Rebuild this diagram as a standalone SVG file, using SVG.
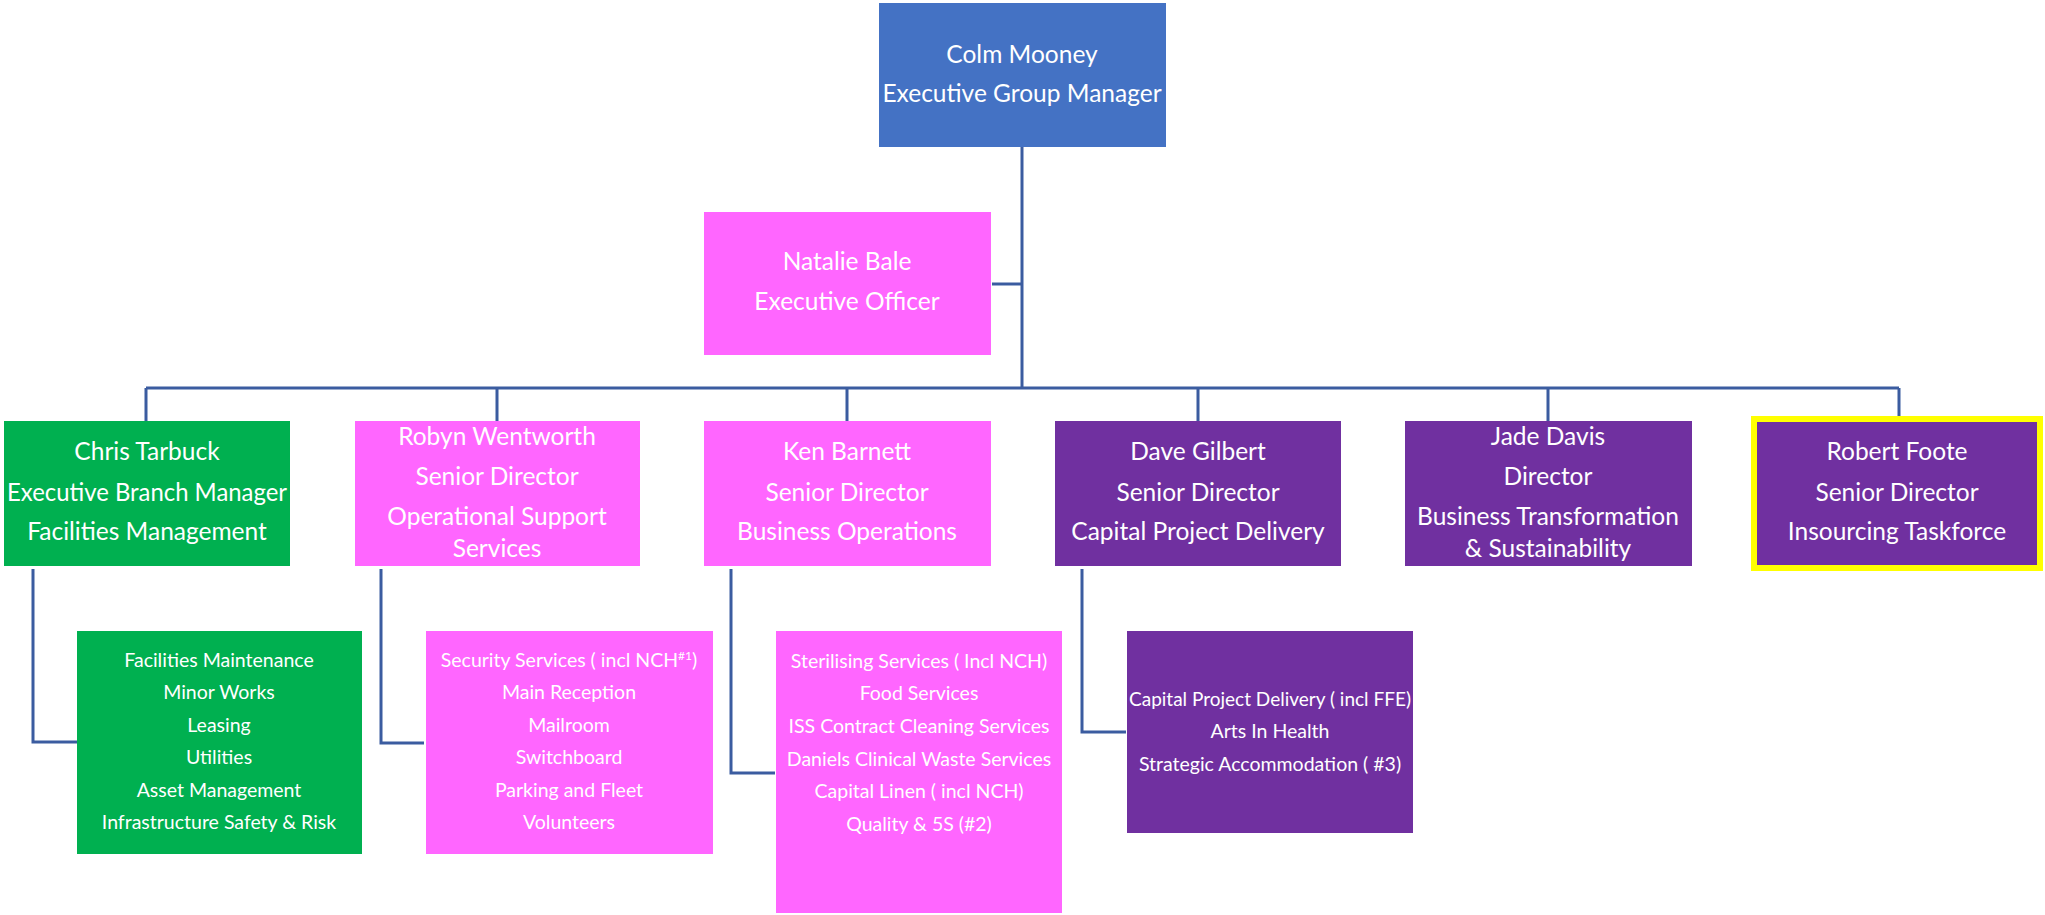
<svg xmlns="http://www.w3.org/2000/svg" width="2045" height="915" viewBox="0 0 2045 915">
<style>
.bx{stroke:none}
.blue{fill:#4472C4}
.pink{fill:#FF66FF}
.green{fill:#00B050}
.purple{fill:#7030A0}
text{font-family:Lato,"Liberation Sans",sans-serif;fill:#FFFFFF;text-anchor:middle}
.t{font-size:24.5px}
.s{font-size:19.5px}
.conn{fill:none;stroke:#3B5CA0;stroke-width:3}
</style>
<rect width="2045" height="915" fill="#FFFFFF"/>
<g id="connectors" class="conn">
<path d="M1022 147V388"/>
<path d="M992 284H1022"/>
<path d="M146 388H1899"/>
<path d="M146 388V421M497 388V421M847 388V421M1198 388V421M1548 388V421M1899 388V416"/>
<path d="M33 569V742H77"/>
<path d="M381 569V743H424"/>
<path d="M731 569V773H775"/>
<path d="M1082 569V732H1126"/>
</g>
<g id="colm">
<rect class="bx blue" x="879" y="3" width="287" height="144"/>
<text class="t" x="1022" y="63">Colm Mooney</text>
<text class="t" x="1022" y="102">Executive Group Manager</text>
</g>
<g id="natalie">
<rect class="bx pink" x="704" y="212" width="287" height="143"/>
<text class="t" x="847" y="270">Natalie Bale</text>
<text class="t" x="847" y="310">Executive Officer</text>
</g>
<g id="chris">
<rect class="bx green" x="4" y="421" width="286" height="145"/>
<text class="t" x="147" y="460">Chris Tarbuck</text>
<text class="t" x="147" y="501" textLength="280" lengthAdjust="spacingAndGlyphs">Executive Branch Manager</text>
<text class="t" x="147" y="540">Facilities Management</text>
</g>
<g id="robyn">
<rect class="bx pink" x="355" y="421" width="285" height="145"/>
<text class="t" x="497" y="445">Robyn Wentworth</text>
<text class="t" x="497" y="485">Senior Director</text>
<text class="t" x="497" y="525">Operational Support</text>
<text class="t" x="497" y="557">Services</text>
</g>
<g id="ken">
<rect class="bx pink" x="704" y="421" width="287" height="145"/>
<text class="t" x="847" y="460">Ken Barnett</text>
<text class="t" x="847" y="501">Senior Director</text>
<text class="t" x="847" y="540">Business Operations</text>
</g>
<g id="dave">
<rect class="bx purple" x="1055" y="421" width="286" height="145"/>
<text class="t" x="1198" y="460">Dave Gilbert</text>
<text class="t" x="1198" y="501">Senior Director</text>
<text class="t" x="1198" y="540">Capital Project Delivery</text>
</g>
<g id="jade">
<rect class="bx purple" x="1405" y="421" width="287" height="145"/>
<text class="t" x="1548" y="445">Jade Davis</text>
<text class="t" x="1548" y="485">Director</text>
<text class="t" x="1548" y="525">Business Transformation</text>
<text class="t" x="1548" y="557">&amp; Sustainability</text>
</g>
<g id="robert">
<rect x="1754" y="419" width="286" height="149" fill="#7030A0" stroke="#FFFF00" stroke-width="6"/>
<text class="t" x="1897" y="460">Robert Foote</text>
<text class="t" x="1897" y="501">Senior Director</text>
<text class="t" x="1897" y="540">Insourcing Taskforce</text>
</g>
<g id="facilities-services">
<rect class="bx green" x="77" y="631" width="285" height="223"/>
<text class="s" x="219" y="667">Facilities Maintenance</text>
<text class="s" x="219" y="699">Minor Works</text>
<text class="s" x="219" y="732">Leasing</text>
<text class="s" x="219" y="764">Utilities</text>
<text class="s" x="219" y="797">Asset Management</text>
<text class="s" x="219" y="829">Infrastructure Safety &amp; Risk</text>
</g>
<g id="operational-services">
<rect class="bx pink" x="426" y="631" width="287" height="223"/>
<text class="s" x="569" y="667">Security Services ( incl NCH<tspan font-size="12" dy="-7">#1</tspan><tspan dy="7">)</tspan></text>
<text class="s" x="569" y="699">Main Reception</text>
<text class="s" x="569" y="732">Mailroom</text>
<text class="s" x="569" y="764">Switchboard</text>
<text class="s" x="569" y="797">Parking and Fleet</text>
<text class="s" x="569" y="829">Volunteers</text>
</g>
<g id="business-services">
<rect class="bx pink" x="776" y="631" width="286" height="282"/>
<text class="s" x="919" y="668">Sterilising Services ( Incl NCH)</text>
<text class="s" x="919" y="700">Food Services</text>
<text class="s" x="919" y="733">ISS Contract Cleaning Services</text>
<text class="s" x="919" y="766">Daniels Clinical Waste Services</text>
<text class="s" x="919" y="798">Capital Linen ( incl NCH)</text>
<text class="s" x="919" y="831">Quality &amp; 5S (#2)</text>
</g>
<g id="capital-services">
<rect class="bx purple" x="1127" y="631" width="286" height="202"/>
<text class="s" x="1270" y="706" textLength="282" lengthAdjust="spacingAndGlyphs">Capital Project Delivery ( incl FFE)</text>
<text class="s" x="1270" y="738">Arts In Health</text>
<text class="s" x="1270" y="771">Strategic Accommodation ( #3)</text>
</g>
</svg>
